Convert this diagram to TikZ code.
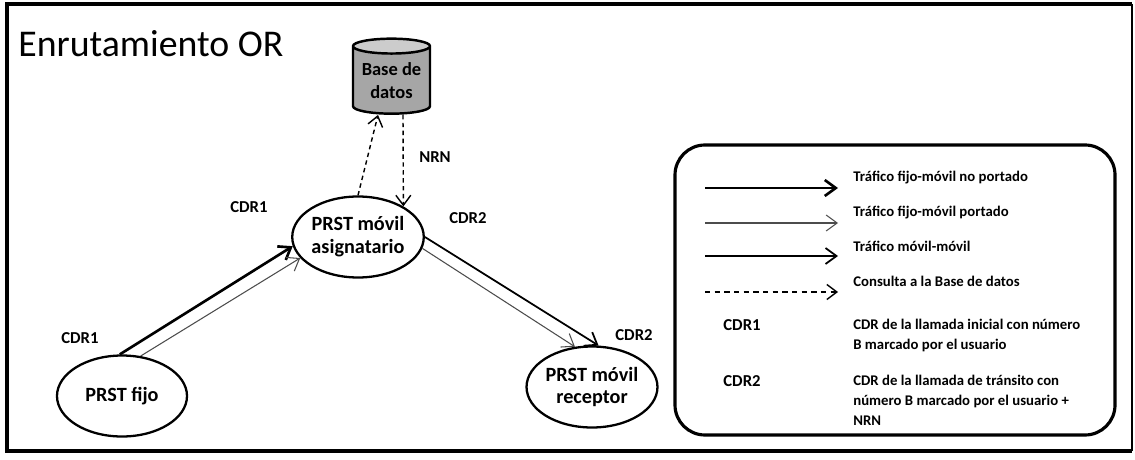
\documentclass[tikz,border=0pt]{standalone}
\usepackage{fontspec}
\setmainfont{Carlito}
\usetikzlibrary{shapes.geometric, arrows.meta}

\begin{document}
\begin{tikzpicture}[scale = 1,
  prst/.style = {draw, ellipse, line width=1.3pt, minimum width=2.6cm, minimum height=1.62cm, inner sep=0pt, align=center, font=\bfseries\fontsize{11.5}{13}\selectfont},
  tag/.style = {inner sep=0pt, font=\bfseries\fontsize{9.5}{11}\selectfont},
  nota/.style = {inner sep=0pt, align=left, font=\bfseries\fontsize{8.4}{11.4}\selectfont},
  noport/.style = {black, line width=1.5pt, -{Straight Barb[length=2.2mm, width=3.2mm]}},
  port/.style = {black!70, line width=0.6pt, -{Straight Barb[length=2.2mm, width=3.2mm]}},
  movmov/.style = {black, line width=1pt, -{Straight Barb[length=2.2mm, width=3.2mm]}},
  consulta/.style = {black, line width=0.8pt, dash pattern=on 2.5pt off 2pt, -{Straight Barb[length=2mm, width=3mm]}}
]
\useasboundingbox (0, 0) rectangle (22.7, 9.18);
% marco
\draw[line width=2pt] (22.64, 9.1) -- (0.14, 9.1) -- (0.14, 0.16) -- (22.64, 0.16);
\draw[line width=0.6pt] (22.64, 9.1) -- (22.64, 0.16);
\node[anchor=base west, inner sep=0pt, font=\fontsize{21.5}{26}\selectfont] (titulo) at (0.36, 8.04) {Enrutamiento OR};

% base de datos y operadores
\node[cylinder, shape border rotate=90, draw, line width=1.4pt, aspect=0.25, minimum width=1.54cm, minimum height=1.5cm, cylinder uses custom fill, cylinder body fill=black!35, cylinder end fill=black!20, inner sep=0pt, align=center, font=\bfseries\fontsize{10.5}{13}\selectfont] (bd) at (7.83, 7.57) {Base de\\datos};
\node[prst] (fijo) at (2.44, 1.26) {PRST fijo};
\node[prst] (asig) at (7.16, 4.44) {PRST móvil\\asignatario};
\node[prst] (recep) at (11.84, 1.44) {PRST móvil\\receptor};

\draw[noport] (fijo.93) -- (asig.188);
\draw[port] (fijo.65) -- (asig.200);
\draw[movmov] (asig.0) -- (recep.81);
\draw[port] (asig.-10) -- (recep.113);
\draw[consulta] (asig.90) -- ([xshift=-0.27cm]bd.south);
\draw[consulta] ([xshift=0.23cm]bd.south) -- (asig.34);

\node[tag] (cdra) at (4.98, 5.04) {CDR1};
\node[tag] (cdrb) at (1.6, 2.42) {CDR1};
\node[tag] (cdrc) at (9.36, 4.82) {CDR2};
\node[tag] (cdrd) at (12.68, 2.48) {CDR2};
\node[tag] (nrn) at (8.7, 6.04) {NRN};

% leyenda
\node[draw, line width=1.8pt, rounded corners=0.6cm, minimum width=8.8cm, minimum height=5.8cm] (leyenda) at (17.9, 3.38) {};
\coordinate (l1a) at (14.1, 5.42); \coordinate (l1b) at (16.76, 5.42);
\coordinate (l2a) at (14.1, 4.72); \coordinate (l2b) at (16.76, 4.72);
\coordinate (l3a) at (14.1, 4.06); \coordinate (l3b) at (16.76, 4.06);
\coordinate (l4a) at (14.1, 3.34); \coordinate (l4b) at (16.76, 3.34);
\draw[noport] (l1a) -- (l1b);
\draw[port] (l2a) -- (l2b);
\draw[movmov] (l3a) -- (l3b);
\draw[consulta, dash pattern=on 3pt off 2.5pt] (l4a) -- (l4b);
\node[nota, anchor=west] (t1) at (17.06, 5.62) {Tráfico fijo-móvil no portado};
\node[nota, anchor=west] (t2) at (17.06, 4.92) {Tráfico fijo-móvil portado};
\node[nota, anchor=west] (t3) at (17.06, 4.26) {Tráfico móvil-móvil};
\node[nota, anchor=west] (t4) at (17.06, 3.56) {Consulta a la Base de datos};
\node[tag, anchor=north] (l5) at (14.84, 2.8) {CDR1};
\node[nota, anchor=north west] (t5) at (17.06, 2.8) {CDR de la llamada inicial con número\\B marcado por el usuario};
\node[tag, anchor=north] (l6) at (14.84, 1.68) {CDR2};
\node[nota, anchor=north west] (t6) at (17.06, 1.68) {CDR de la llamada de tránsito con\\número B marcado por el usuario +\\NRN};
\end{tikzpicture}
\end{document}
